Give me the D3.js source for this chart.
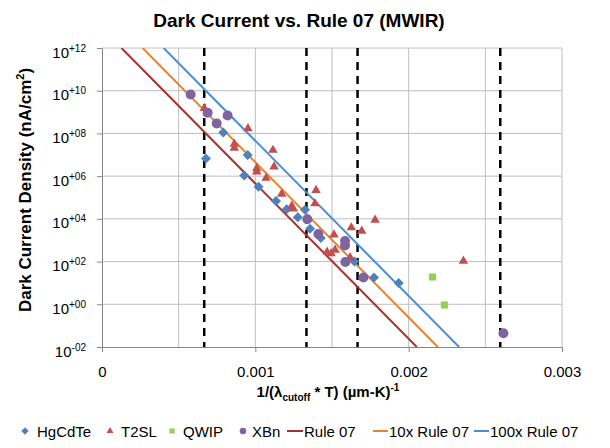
<!DOCTYPE html>
<html>
<head>
<meta charset="utf-8">
<script src="https://cdn.jsdelivr.net/npm/d3@7"></script>
<style>
  body { margin: 0; background: #fff; }
  text { font-family: "Liberation Sans", Arial, sans-serif; fill: #000; }
</style>
</head>
<body>
<div id="chart"></div>
<script>
// x = 1/(lambda_cutoff * T), y = dark current density (nA/cm^2)
const hgcdteX = [0.000791, 0.000678, 0.000950, 0.000928, 0.001021, 0.001135, 0.001204, 0.001324, 0.001277, 0.001357, 0.001427, 0.001646, 0.001774, 0.001935]
const hgcdteY = [1.1e8, 6.7e6, 9.8e6, 1.07e6, 3.2e5, 6.9e4, 2.8e4, 2.7e4, 1.2e4, 3.4e3, 1.26e3, 100, 18, 10]

const t2slX = [0.000667, 0.000685, 0.000952, 0.000863, 0.000863, 0.001115, 0.001122, 0.001009, 0.001009, 0.001070, 0.001172, 0.001396, 0.001389, 0.001237, 0.001248, 0.001781, 0.001626, 0.001694, 0.001513, 0.001468, 0.001494, 0.001520, 0.001618, 0.002357]
const t2slY = [1.5e9, 9e8, 1.7e8, 3.2e7, 2.1e7, 1.66e7, 2.75e6, 2.3e6, 1.6e6, 8.1e5, 1.45e5, 2.2e5, 5.2e4, 4.0e4, 3.0e4, 8.9e3, 3.9e3, 2.7e3, 1.8e3, 280, 240, 350, 155, 107]

const qwipX = [0.002155, 0.002233]
const qwipY = [19, 0.93]

const xbnX = [0.000578, 0.000689, 0.000819, 0.000748, 0.001339, 0.001411, 0.001585, 0.001585, 0.001587, 0.001705, 0.002618]
const xbnY = [6.6e9, 9.3e8, 6.9e8, 2.95e8, 9.5e3, 1.95e3, 910, 560, 95, 18, 0.044]

// rule lines: end points where they cross the plot frame
const rule07X = [0.000127, 0.002053]
const rule07Y = [1e12, 1e-2]
const rule10X = [0.000265, 0.002190]
const rule10Y = [1e12, 1e-2]
const rule100X = [0.000402, 0.002329]
const rule100Y = [1e12, 1e-2]

// dashed markers: 5 um at 300K, 150K, 120K, 77K
const dashX = [1/1500, 1/750, 1/600, 1/385]

const yTicks = [1e-2, 1e0, 1e2, 1e4, 1e6, 1e8, 1e10, 1e12]
const yTickLabels = ["-02", "+00", "+02", "+04", "+06", "+08", "+10", "+12"]
const xTicks = [0, 0.001, 0.002, 0.003]
const xGrid = [0.0005, 0.001, 0.0015, 0.002, 0.0025, 0.003]

const svgWidth = 610
const svgHeight = 448
const plot = { left: 102, right: 562, top: 48, bottom: 347 }

const cBlue = "#4f81bd", cRed = "#c0504d", cGreen = "#92d050", cPurple = "#8064a2"
const cRule = "#a8312e", cRule10 = "#e8822b", cRule100 = "#4a8ed6"

let svg = d3.select("#chart").append("svg")
  .attr("width", svgWidth)
  .attr("height", svgHeight)

let x = d3.scaleLinear().domain([0, 0.003]).range([plot.left, plot.right])
let y = d3.scaleLog().domain([1e-2, 1e12]).range([plot.bottom, plot.top])

// gridlines
svg.append("g").selectAll("line").data(yTicks.slice(1)).enter().append("line")
  .attr("x1", plot.left).attr("x2", plot.right)
  .attr("y1", d => y(d)).attr("y2", d => y(d))
  .attr("stroke", "#bebebe").attr("stroke-width", 1)
svg.append("g").selectAll("line").data(xGrid).enter().append("line")
  .attr("x1", d => x(d)).attr("x2", d => x(d))
  .attr("y1", plot.top).attr("y2", plot.bottom)
  .attr("stroke", "#bebebe").attr("stroke-width", 1)

// axes
let xAxis = svg.append("g")
  .attr("transform", "translate(0," + plot.bottom + ")")
  .call(d3.axisBottom(x).tickValues(xTicks).tickSize(5).tickSizeOuter(0)
    .tickFormat(d => d === 0 ? "0" : d3.format(".3f")(d)))
xAxis.select(".domain").attr("stroke", "#868686")
xAxis.selectAll(".tick line").attr("stroke", "#868686")
xAxis.selectAll(".tick text")
  .attr("y", 30).attr("dy", 0)
  .attr("font-size", "15px").attr("font-family", "Liberation Sans, Arial, sans-serif")

let yAxis = svg.append("g")
  .attr("transform", "translate(" + plot.left + ",0)")
  .call(d3.axisLeft(y).tickValues(yTicks).tickSize(5).tickSizeOuter(0).tickFormat(""))
yAxis.select(".domain").attr("stroke", "#868686")
yAxis.selectAll(".tick line").attr("stroke", "#868686")
yAxis.selectAll(".tick text").each(function(d, i) {
  let t = d3.select(this)
    .attr("x", -16).attr("dy", 0).attr("y", 9)
    .attr("font-size", "15px").attr("font-family", "Liberation Sans, Arial, sans-serif")
  t.append("tspan").text("10")
  t.append("tspan").attr("dy", -6).attr("font-size", "10px").text(yTickLabels[i])
})

// dashed reference lines
svg.append("g").selectAll("line").data(dashX).enter().append("line")
  .attr("x1", d => x(d)).attr("x2", d => x(d))
  .attr("y1", plot.top).attr("y2", plot.bottom)
  .attr("stroke", "#000").attr("stroke-width", 2.5)
  .attr("stroke-dasharray", "8,6")

// rule 07 lines
let line = d3.line().x(d => x(d[0])).y(d => y(d[1]))
const rules = [
  { xs: rule07X, ys: rule07Y, color: cRule },
  { xs: rule10X, ys: rule10Y, color: cRule10 },
  { xs: rule100X, ys: rule100Y, color: cRule100 }
]
svg.append("clipPath").attr("id", "clip").append("rect")
  .attr("x", plot.left).attr("y", plot.top)
  .attr("width", plot.right - plot.left).attr("height", plot.bottom - plot.top)
let lg = svg.append("g").attr("clip-path", "url(#clip)")
rules.forEach(r => {
  lg.append("path")
    .datum(r.xs.map((v, i) => [v, r.ys[i]]))
    .attr("d", line)
    .attr("fill", "none")
    .attr("stroke", r.color)
    .attr("stroke-width", 2)
})

// markers
const symDiamond = d3.symbol().type(d3.symbolDiamond2).size(64)
const symTriangle = d3.symbol().type(d3.symbolTriangle2).size(64)
const symSquare = d3.symbol().type(d3.symbolSquare2).size(64)
const symCircle = d3.symbol().type(d3.symbolCircle).size(78)
const series = [
  { xs: hgcdteX, ys: hgcdteY, sym: symDiamond, color: cBlue, name: "HgCdTe" },
  { xs: t2slX, ys: t2slY, sym: symTriangle, color: cRed, name: "T2SL" },
  { xs: qwipX, ys: qwipY, sym: symSquare, color: cGreen, name: "QWIP" },
  { xs: xbnX, ys: xbnY, sym: symCircle, color: cPurple, name: "XBn" }
]
series.forEach(s => {
  svg.append("g").selectAll("path")
    .data(s.xs.map((v, i) => [v, s.ys[i]]))
    .enter().append("path")
    .attr("d", s.sym)
    .attr("transform", d => "translate(" + x(d[0]) + "," + y(d[1]) + ")")
    .attr("fill", s.color)
})

// title and axis labels
svg.append("text")
  .attr("x", 299).attr("y", 27)
  .attr("text-anchor", "middle")
  .attr("font-size", "19px").attr("font-weight", "bold")
  .text("Dark Current vs. Rule 07 (MWIR)")

let xl = svg.append("text")
  .attr("x", 328).attr("y", 397)
  .attr("text-anchor", "middle")
  .attr("font-size", "15px").attr("font-weight", "bold")
xl.append("tspan").text("1/(λ")
xl.append("tspan").attr("dy", 4).attr("font-size", "10px").text("cutoff")
xl.append("tspan").attr("dy", -4).text(" * T) (µm-K)")
xl.append("tspan").attr("dy", -6).attr("font-size", "10px").text("-1")

let yl = svg.append("text")
  .attr("transform", "translate(31," + 190 + ") rotate(-90)")
  .attr("text-anchor", "middle")
  .attr("font-size", "17px").attr("font-weight", "bold")
yl.append("tspan").text("Dark Current Density (nA/cm")
yl.append("tspan").attr("dy", -7).attr("font-size", "11px").text("2")
yl.append("tspan").attr("dy", 7).text(")")

// legend
const legendY = 431
const legendMarks = [
  { sx: 25, tx: 37, s: series[0] },
  { sx: 110, tx: 121, s: series[1] },
  { sx: 172, tx: 183, s: series[2] },
  { sx: 243, tx: 252, s: series[3] }
]
legendMarks.forEach(m => {
  svg.append("path")
    .attr("d", d3.symbol().type(m.s.sym.type()).size(34)())
    .attr("transform", "translate(" + m.sx + "," + legendY + ")")
    .attr("fill", m.s.color)
  svg.append("text").attr("x", m.tx).attr("y", legendY + 5.5)
    .attr("font-size", "15px").text(m.s.name)
})
const legendLines = [
  { x1: 287, x2: 303, tx: 304, color: cRule, name: "Rule 07" },
  { x1: 373, x2: 388, tx: 389, color: cRule10, name: "10x Rule 07" },
  { x1: 474, x2: 489, tx: 490, color: cRule100, name: "100x Rule 07" }
]
legendLines.forEach(l => {
  svg.append("line").attr("x1", l.x1).attr("x2", l.x2)
    .attr("y1", legendY).attr("y2", legendY)
    .attr("stroke", l.color).attr("stroke-width", 2)
  svg.append("text").attr("x", l.tx).attr("y", legendY + 5.5)
    .attr("font-size", "15px").text(l.name)
})
</script>
</body>
</html>
